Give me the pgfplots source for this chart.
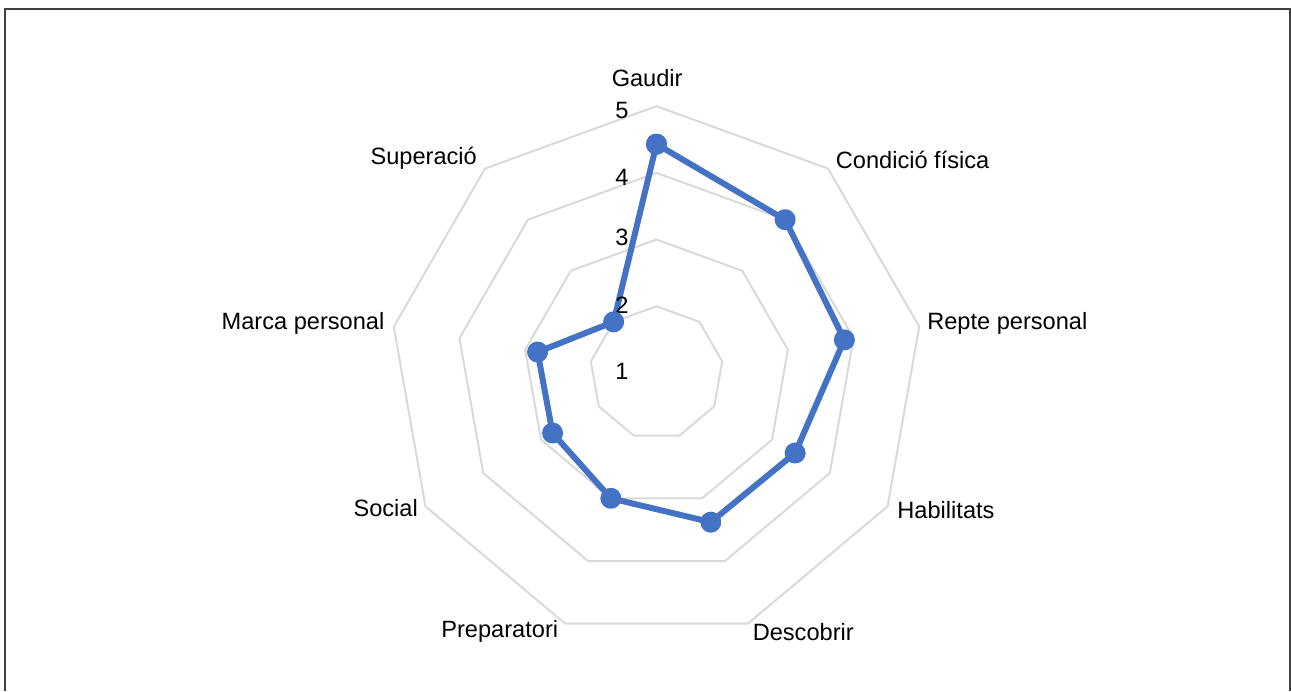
\documentclass[border=0pt]{standalone}
\usepackage{pgfplots}
\pgfplotsset{compat=1.18}
\usepackage{pgfplotstable}
\usepackage{fontspec}
\setmainfont{Liberation Sans}
\definecolor{serieblue}{HTML}{4472C4}
\definecolor{gridgray}{HTML}{D9D9D9}
\definecolor{framegray}{HTML}{404040}

% angle (deg, clockwise from top) and value on the 1-5 scale
\pgfplotstableread{
cat angle v
Gaudir 90 4.43
Condicio 50 4.00
Repte 10 3.86
Habilitats -30 3.40
Descobrir -70 3.38
Preparatori -110 3.00
Social -150 2.80
Marca -190 2.81
Superacio -230 2.00
Gaudir -270 4.43
}\datatable

\begin{document}
\begin{tikzpicture}
\begin{axis}[
    scale only axis,
    width=968.25pt, height=518.25pt,
    xmin=-9.843, xmax=9.513,
    ymin=-4.768, ymax=5.592,
    hide axis,
    clip=false,
    font=\fontsize{17.7}{21}\selectfont,
]
% keep the full canvas in the bounding box
\path (axis cs:-9.843,-4.768) rectangle (axis cs:9.513,5.592);
% frame
\draw[framegray, line width=1.1pt]
    (axis cs:-9.768,-4.768) -- (axis cs:-9.768,5.457)
    -- (axis cs:9.498,5.457) -- (axis cs:9.498,-4.768);

% nonagon grid, levels 2..5 (radius = level - 1)
\pgfplotsinvokeforeach{1,2,3,4}{
  \addplot[data cs=polar, gridgray, line width=1.5pt, no marks]
    coordinates {(90,#1) (50,#1) (10,#1) (-30,#1) (-70,#1)
                 (-110,#1) (-150,#1) (-190,#1) (-230,#1) (-270,#1)};
}

% series
\addplot[data cs=polar, serieblue, line width=4.5pt, line join=round,
    mark=*, mark size=5.6pt, mark options={draw=none, fill=serieblue}]
    table[x=angle, y expr=\thisrow{v}-1] {\datatable};

% scale labels
\node at (axis cs:-0.52,3.94) {5};
\node at (axis cs:-0.52,2.93) {4};
\node at (axis cs:-0.52,2.03) {3};
\node at (axis cs:-0.52,1.01) {2};
\node at (axis cs:-0.52,0.02) {1};

% category labels
\node at (axis cs:-0.14,4.42) {Gaudir};
\node at (axis cs:3.84,3.19) {Condició física};
\node at (axis cs:5.26,0.74) {Repte personal};
\node at (axis cs:4.34,-2.05) {Habilitats};
\node at (axis cs:2.20,-3.88) {Descobrir};
\node at (axis cs:-2.35,-3.88) {Preparatori};
\node at (axis cs:-4.06,-2.02) {Social};
\node at (axis cs:-5.30,0.74) {Marca personal};
\node at (axis cs:-3.49,3.22) {Superació};
\end{axis}
\end{tikzpicture}
\end{document}
